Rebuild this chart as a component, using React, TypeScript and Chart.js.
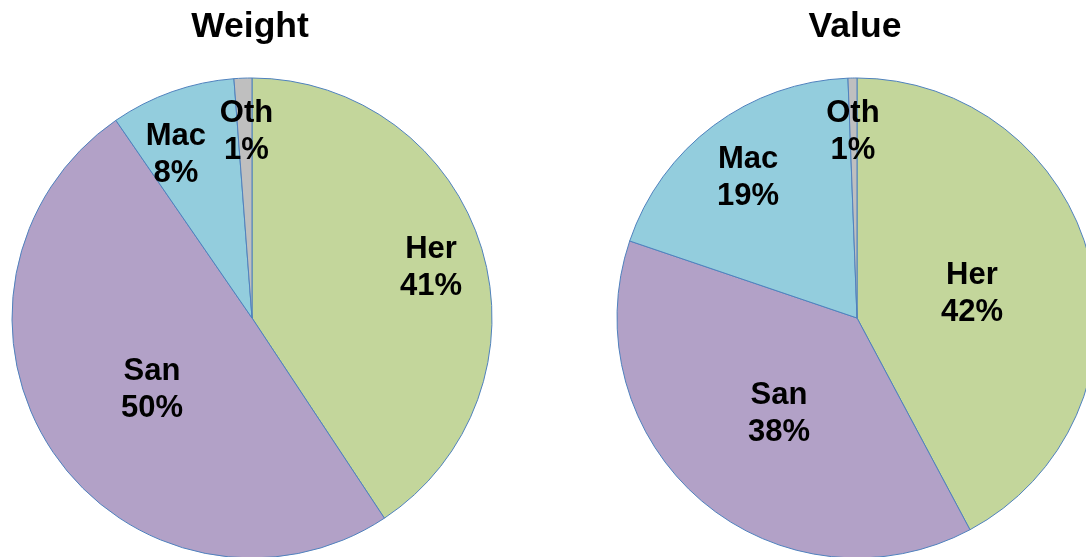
import React, { useEffect, useRef } from "react";
import { Chart, registerables } from "chart.js";

Chart.register(...registerables);

const categories = ["Her", "San", "Mac", "Oth"];
const weightValues = [40.7, 49.7, 8.4, 1.2];
const valueValues = [42.2, 38.0, 19.2, 0.6];
const sliceColors = ["#C3D69B", "#B2A1C7", "#93CDDD", "#BFBFBF"];

// label placement as fractions of the pie radius, relative to the pie centre
const weightLabelPos = [
  [0.746, -0.217],
  [-0.417, 0.2875],
  [-0.317, -0.69],
  [-0.023, -0.785],
];
const valueLabelPos = [
  [0.479, -0.1125],
  [-0.325, 0.3875],
  [-0.454, -0.592],
  [-0.017, -0.7875],
];

const FONT = "'Liberation Sans', Arial, sans-serif";
const CANVAS_W = 520;
const CANVAS_H = 620;

function makeLabelPlugin(title: string, labelPos: number[][]) {
  return {
    id: "pieLabels",
    afterDatasetsDraw(chart: any) {
      const ctx = chart.ctx;
      const meta = chart.getDatasetMeta(0);
      const data = chart.data.datasets[0].data as number[];
      const total = data.reduce((a, b) => a + b, 0);
      const arc0 = meta.data[0] as any;
      const cx = arc0.x;
      const cy = arc0.y;
      const r = arc0.outerRadius;
      ctx.save();
      ctx.fillStyle = "#000";
      ctx.textAlign = "center";
      ctx.textBaseline = "alphabetic";
      ctx.font = `bold 35.5px ${FONT}`;
      ctx.fillText(title, cx - 2, 37);
      ctx.font = `bold 31px ${FONT}`;
      meta.data.forEach((_arc: any, i: number) => {
        const [fx, fy] = labelPos[i];
        const lx = cx + fx * r;
        const ly = cy + fy * r;
        const pct = Math.round((data[i] / total) * 100) + "%";
        ctx.fillText(String(chart.data.labels[i]), lx, ly - 7.5);
        ctx.fillText(pct, lx, ly + 29.5);
      });
      ctx.restore();
    },
  };
}

function PieChart(props: {
  title: string;
  values: number[];
  labelPos: number[][];
  left: number;
  padLeft: number;
}) {
  const ref = useRef<HTMLCanvasElement | null>(null);
  useEffect(() => {
    if (!ref.current) return;
    const padRight = CANVAS_W - props.padLeft - 481;
    const chart = new Chart(ref.current, {
      type: "pie",
      data: {
        labels: categories,
        datasets: [
          {
            data: props.values,
            backgroundColor: sliceColors,
            borderColor: "#4F81BD",
            borderWidth: 1,
          },
        ],
      },
      options: {
        responsive: false,
        animation: false,
        devicePixelRatio: 1,
        layout: {
          padding: {
            left: props.padLeft,
            right: padRight,
            top: 77.5,
            bottom: CANVAS_H - 77.5 - 481,
          },
        },
        plugins: {
          legend: { display: false },
          tooltip: { enabled: false },
          title: { display: false },
        },
      },
      plugins: [makeLabelPlugin(props.title, props.labelPos)],
    });
    return () => chart.destroy();
  }, []);
  return (
    <canvas
      ref={ref}
      width={CANVAS_W}
      height={CANVAS_H}
      style={{
        position: "absolute",
        left: props.left,
        top: 0,
        width: CANVAS_W,
        height: CANVAS_H,
      }}
    />
  );
}

export default function App() {
  return (
    <div
      style={{
        position: "fixed",
        left: 0,
        top: 0,
        width: 1086,
        height: 557,
        overflow: "hidden",
        background: "#fff",
      }}
    >
      <PieChart title="Weight" values={weightValues} labelPos={weightLabelPos} left={0} padLeft={11.5} />
      <PieChart title="Value" values={valueValues} labelPos={valueLabelPos} left={600} padLeft={16.5} />
    </div>
  );
}
